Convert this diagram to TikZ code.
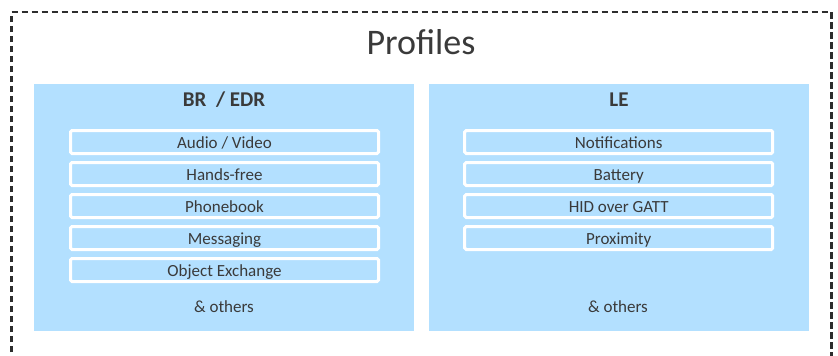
\documentclass[tikz,border=0pt]{standalone}
\usepackage{fontspec}
\setmainfont{Carlito}
\usetikzlibrary{positioning}
\definecolor{paleblue}{RGB}{179,224,255}
\definecolor{inkgray}{RGB}{58,58,58}
\definecolor{framegray}{RGB}{45,45,45}

\begin{document}
\begin{tikzpicture}[x=1pt,y=-1pt,
    group/.style={fill=paleblue,anchor=north west,minimum width=380pt,minimum height=247pt,inner sep=0pt},
    item/.style={draw=white,line width=3pt,fill=paleblue,rounded corners=1.5pt,minimum width=308pt,minimum height=23pt,inner sep=0pt,
        text height=13pt,text depth=1pt,text=inkgray,font=\fontsize{17}{20}\selectfont},
    head/.style={anchor=base,inner sep=0pt,text=inkgray,font=\fontsize{21}{24}\selectfont\bfseries},
    note/.style={anchor=base,inner sep=0pt,text=inkgray,font=\fontsize{17}{20}\selectfont}]

    \useasboundingbox (0,0) rectangle (838,356);

    % Outer dashed frame (bottom edge runs off the picture)
    \draw[framegray,line width=2.6pt,dash pattern=on 6.5pt off 3.5pt] (11.5,362) -- (11.5,12) -- (831.5,12) -- (831.5,362);
    \node[anchor=base,inner sep=0pt,text=inkgray,font=\fontsize{36}{40}\selectfont] (title) at (421,54) {Profiles};

    % Two groups
    \node[group] (brbox) at (34,84) {};
    \node[group] (lebox) at (429,84) {};
    \node[head] (brhead) at (224,106) {BR\ \ / EDR};
    \node[head] (lehead) at (619,106) {LE};

    % Profiles in each group
    \foreach \txt [count=\i] in {{Audio / Video},{Hands-free},{Phonebook},{Messaging},{Object Exchange}}
        {
        \node[item] (br\i) at (224.5,110+32*\i) {\txt};
        }
    \foreach \txt [count=\i] in {{Notifications},{Battery},{HID over GATT},{Proximity}}
        {
        \node[item] (le\i) at (618.7,110+32*\i) {\txt};
        }

    \node[note] (brmore) at (224,312.5) {\& others};
    \node[note] (lemore) at (618,312.5) {\& others};

\end{tikzpicture}
\end{document}
